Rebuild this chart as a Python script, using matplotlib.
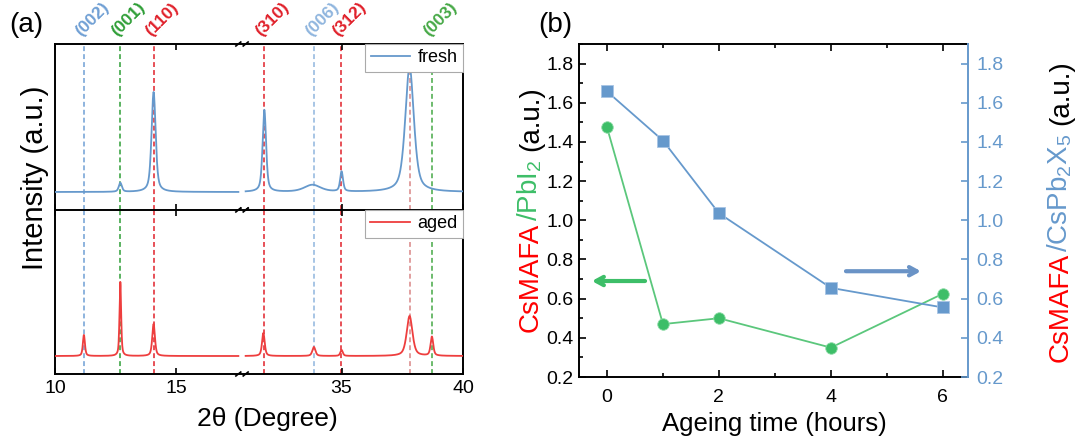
import numpy as np
import matplotlib
matplotlib.use("Agg")
import matplotlib.pyplot as plt
from matplotlib.ticker import FixedLocator, MultipleLocator, NullLocator

plt.rcParams['font.family'] = ['Liberation Sans', 'DejaVu Sans']
plt.rcParams['mathtext.fontset'] = 'custom'
plt.rcParams['mathtext.rm'] = 'Liberation Sans'
plt.rcParams['mathtext.it'] = 'Liberation Sans:italic'
plt.rcParams['mathtext.bf'] = 'Liberation Sans:bold'

# ---------------- (a) XRD patterns ----------------
scan_left = (10.0, 17.55)      # measured 2-theta window before the axis break
scan_right = (31.05, 40.0)     # measured 2-theta window after the axis break
axis_break = (17.7, 30.9)

reflection_labels = ['(002)', '(001)', '(110)', '(310)', '(006)', '(312)', '(003)']
reflection_pos = [11.19, 12.69, 14.06, 31.82, 33.86, 34.99, 38.72]
reflection_colors = ['#6f9fd4', '#2e9e36', '#e0202a', '#e0202a', '#8fb5de', '#e0202a', '#45a845']
unlabeled_line_pos = [37.80]
unlabeled_line_colors = ['#d98585']

fresh_peak_pos = [12.69, 14.06, 31.82, 33.80, 35.00, 37.80]
fresh_peak_height = [90, 1000, 820, 70, 200, 1250]
fresh_peak_fwhm = [0.15, 0.20, 0.17, 0.80, 0.14, 0.42]

aged_peak_pos = [11.19, 12.69, 14.06, 31.78, 33.86, 35.00, 37.80, 38.72]
aged_peak_height = [210, 740, 320, 230, 90, 60, 400, 190]
aged_peak_fwhm = [0.10, 0.08, 0.13, 0.13, 0.15, 0.12, 0.28, 0.13]

# ---------------- (b) ageing ratios ----------------
ageing_hours = [0, 1, 2, 4, 6]
ratio_pbi2 = [1.475, 0.47, 0.50, 0.35, 0.625]
ratio_cspb2x5 = [1.658, 1.407, 1.036, 0.655, 0.555]

BLUE = '#6699CC'
RED_LINE = '#EE3E3E'
GREEN = '#3DBE68'
GREEN_LINE = '#5BC77C'
RED_TXT = '#FF0000'

W, H = 1082, 445
fig = plt.figure(figsize=(W / 100, H / 100), dpi=100)


def px_rect(left, top, right, bottom):
    return [left / W, 1 - bottom / H, (right - left) / W, (bottom - top) / H]


# broken 2-theta axis expressed as a function scale
b0, b1 = axis_break
EPS = 1e-4


def fwd(x):
    x = np.asarray(x, float)
    return np.where(x <= b0, x - 10.0,
                    np.where(x >= b1, x - b1 + (b0 - 10.0) + EPS,
                             (b0 - 10.0) + (x - b0) * EPS / (b1 - b0)))


def inv(u):
    u = np.asarray(u, float)
    ub = b0 - 10.0
    return np.where(u <= ub, u + 10.0,
                    np.where(u >= ub + EPS, u - ub - EPS + b1,
                             b0 + (u - ub) * (b1 - b0) / EPS))


def pattern(theta, pos, height, fwhm, eta=0.55):
    y = np.zeros_like(theta)
    for p, h, w in zip(pos, height, fwhm):
        g = np.exp(-4 * np.log(2) * ((theta - p) / w) ** 2)
        lor = 1.0 / (1.0 + 4 * ((theta - p) / w) ** 2)
        y += h * (eta * lor + (1 - eta) * g)
    return y


theta_l = np.arange(scan_left[0], scan_left[1] + 1e-9, 0.01)
theta_r = np.arange(scan_right[0], scan_right[1] + 1e-9, 0.01)
theta = np.concatenate([theta_l, [np.nan], theta_r])

ax_top = fig.add_axes(px_rect(55, 44, 463, 210))
ax_bot = fig.add_axes(px_rect(55, 210, 463, 374), sharex=ax_top)

for ax, pos, hgt, fw, col, lab, ylim in [
        (ax_top, fresh_peak_pos, fresh_peak_height, fresh_peak_fwhm, BLUE, 'fresh', (-180, 1480)),
        (ax_bot, aged_peak_pos, aged_peak_height, aged_peak_fwhm, RED_LINE, 'aged', (-180, 1460))]:
    y = np.concatenate([pattern(theta_l, pos, hgt, fw), [np.nan],
                        pattern(theta_r, pos, hgt, fw)])
    ax.set_xscale('function', functions=(fwd, inv))
    for xp, c in zip(reflection_pos + unlabeled_line_pos,
                     reflection_colors + unlabeled_line_colors):
        ax.axvline(xp, color=c, lw=1.1, ls=(0, (3.2, 2.0)), zorder=1)
    ax.plot(theta, y, color=col, lw=1.3, label=lab, zorder=3)
    ax.set_xlim(10, 40)
    ax.set_ylim(*ylim)
    ax.yaxis.set_major_locator(NullLocator())
    ax.xaxis.set_major_locator(FixedLocator([10, 15, 35, 40]))
    ax.xaxis.set_minor_locator(NullLocator())
    ax.tick_params(axis='x', direction='in', top=True, bottom=True, length=4,
                   width=1.2, labelsize=14, pad=4)
    for s in ax.spines.values():
        s.set_linewidth(1.4)
    leg = ax.legend(loc='upper right', borderaxespad=0, fontsize=13,
                    handlelength=2.2, handletextpad=0.4, borderpad=0.3,
                    fancybox=False, framealpha=1, edgecolor='#aaaaaa')
    leg.get_frame().set_linewidth(0.8)
    leg.set_zorder(5)

ax_top.spines['bottom'].set_visible(False)
ax_top.tick_params(axis='x', labelbottom=False)

# break marks on every horizontal spine
brk = (b0 - 10.0) / (40.0 - 10.0 - (b1 - b0))
for ax in (ax_top, ax_bot):
    for yy in (0, 1):
        for dx in (-0.009, 0.009):
            ax.plot([brk + dx - 0.006, brk + dx + 0.006], [yy - 0.012, yy + 0.012],
                    transform=ax.transAxes, color='black', lw=1.2,
                    clip_on=False, zorder=6)

# reflection indices above the top frame
for lab, xp, c in zip(reflection_labels, reflection_pos, reflection_colors):
    ax_top.annotate(lab, xy=(xp, 1), xycoords=('data', 'axes fraction'),
                    xytext=(6, 17.5), textcoords='offset points', rotation=45,
                    ha='center', va='center', fontsize=12.5, fontweight='bold',
                    color=c, annotation_clip=False)

fig.text(35 / W, 1 - 178 / H, 'Intensity (a.u.)', rotation=90, ha='center',
         va='center', fontsize=21)
fig.text(267 / W, 1 - 419 / H, '2θ (Degree)', ha='center', va='center', fontsize=19)
fig.text(26 / W, 1 - 25 / H, '(a)', ha='center', va='center', fontsize=20)

# ---------------- panel (b) ----------------
ax2 = fig.add_axes(px_rect(579, 44, 968, 377))
ax2r = ax2.twinx()

ax2.plot(ageing_hours, ratio_pbi2, '-', color=GREEN_LINE, lw=1.3, zorder=2)
ax2.plot(ageing_hours, ratio_pbi2, 'o', color=GREEN, ms=8.3, mec='#8fdca8', mew=0.6, zorder=3)
ax2r.plot(ageing_hours, ratio_cspb2x5, '-', color=BLUE, lw=1.3, zorder=2)
ax2r.plot(ageing_hours, ratio_cspb2x5, 's', color=BLUE, ms=8, mec='#a8c4e4', mew=0.6, zorder=3)

for a in (ax2, ax2r):
    a.set_ylim(0.2, 1.9)
    a.set_xlim(-0.5, 6.45)
ax2.xaxis.set_major_locator(FixedLocator([0, 2, 4, 6]))
ax2.xaxis.set_minor_locator(FixedLocator([1, 3, 5]))
ax2.yaxis.set_major_locator(MultipleLocator(0.2))
ax2.yaxis.set_minor_locator(MultipleLocator(0.1))
ax2r.yaxis.set_major_locator(MultipleLocator(0.2))
ax2r.yaxis.set_minor_locator(NullLocator())
ax2.yaxis.set_major_formatter(plt.FuncFormatter(lambda v, p: f'{v:.1f}'))
ax2r.yaxis.set_major_formatter(plt.FuncFormatter(lambda v, p: f'{v:.1f}'))

ax2.tick_params(axis='x', which='both', direction='in', top=True, bottom=True,
                labelsize=14, pad=9, width=1.2)
ax2.tick_params(axis='x', which='major', length=5)
ax2.tick_params(axis='x', which='minor', length=3)
ax2.tick_params(axis='y', which='both', direction='in', left=True, right=False,
                labelsize=14, pad=4, width=1.2)
ax2.tick_params(axis='y', which='major', length=5)
ax2.tick_params(axis='y', which='minor', length=3)
ax2r.tick_params(axis='y', direction='in', length=5, width=1.2, colors=BLUE,
                 labelsize=14, pad=6)
for s in ax2.spines.values():
    s.set_linewidth(1.4)
ax2.spines['right'].set_visible(False)
for k in ('left', 'top', 'bottom'):
    ax2r.spines[k].set_visible(False)
ax2r.spines['right'].set_color(BLUE)
ax2r.spines['right'].set_linewidth(1.4)

ax2.annotate('', xy=(-0.27, 0.69), xytext=(0.68, 0.69),
             arrowprops=dict(arrowstyle='->,head_length=0.55,head_width=0.3',
                             color=GREEN, lw=3, shrinkA=0, shrinkB=0))
ax2r.annotate('', xy=(5.61, 0.74), xytext=(4.27, 0.74),
              arrowprops=dict(arrowstyle='->,head_length=0.55,head_width=0.3',
                              color='#6a93c6', lw=3, shrinkA=0, shrinkB=0))

fig.text(774 / W, 1 - 424 / H, 'Ageing time (hours)', ha='center', va='center',
         fontsize=18.5)
fig.text(555 / W, 1 - 25 / H, '(b)', ha='center', va='center', fontsize=20)


def stacked_label(x_base_px, y_center_px, pieces, size):
    """Vertical label built from differently coloured pieces sharing one baseline."""
    texts = []
    for s, c, gap in pieces:
        t = fig.text(0.5, 0.5, s, color=c, fontsize=size, rotation=0,
                     rotation_mode='anchor', ha='left', va='baseline')
        texts.append((t, gap))
    fig.canvas.draw()
    r = fig.canvas.get_renderer()
    em = size * fig.dpi / 72
    lengths = [t.get_window_extent(r).width for t, _ in texts]
    gaps = [g * em for _, g in texts]
    total = sum(lengths) + sum(gaps)
    y = y_center_px - total / 2  # measured from the bottom, in pixels
    for (t, _), L, g in zip(texts, lengths, gaps):
        y += g
        t.set_rotation(90)
        t.set_position((x_base_px / W, y / H))
        y += L + 1


stacked_label(538, H - 210, [('CsMAFA', RED_TXT, 0), ('/PbI$_2$', GREEN, 0),
                             ('(a.u.)', 'black', 0.28)], size=20)
stacked_label(1068, H - 212, [('CsMAFA', RED_TXT, 0), ('/CsPb$_2$X$_5$', BLUE, 0),
                              ('(a.u.)', 'black', 0.28)], size=20)

fig.savefig('out.png', dpi=100)
